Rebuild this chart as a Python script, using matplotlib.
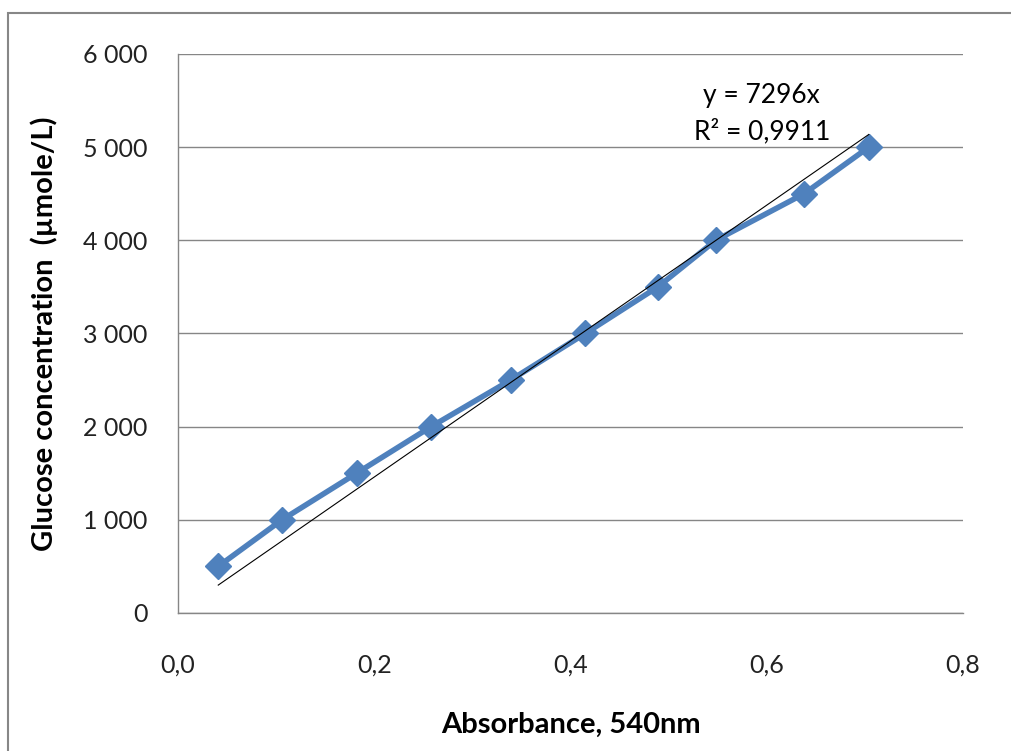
import matplotlib
matplotlib.use("Agg")
import numpy as np
from matplotlib import pyplot as plt
from matplotlib.patches import Rectangle
from matplotlib.ticker import FuncFormatter

absorbance = [0.041, 0.106, 0.182, 0.258, 0.339, 0.415, 0.489, 0.548, 0.638, 0.704]
glucose = [500, 1000, 1500, 2000, 2500, 3000, 3500, 4000, 4500, 5000]
slope = 7296
r2_text = "0,9911"

plt.rcParams["font.family"] = ["Lato", "DejaVu Sans"]

fig = plt.figure(figsize=(10.12, 7.51), dpi=100)
ax = fig.add_axes([0.1759, 0.1838, 0.7757, 0.7443])

# outer chart frame
fig.patches.append(Rectangle((8 / 1012, -0.1), 1.2, (751 - 13) / 751 + 0.1,
                             transform=fig.transFigure, fill=False,
                             edgecolor="#878787", linewidth=1.5))

ax.plot(absorbance, glucose, color="#4F81BD", linewidth=4,
        marker="D", markersize=13, zorder=3)

# linear trendline through origin
xt = np.array([absorbance[0], absorbance[-1]])
ax.plot(xt, slope * xt, color="black", linewidth=0.8, zorder=4)

ax.text(0.595, 5550, "y = %dx" % slope, ha="center", va="center", fontsize=19)
ax.text(0.595, 5170, "R² = " + r2_text, ha="center", va="center", fontsize=19)

ax.set_xlim(0, 0.8)
ax.set_ylim(0, 6000)
ax.set_xticks(np.arange(0, 0.81, 0.2))
ax.set_yticks(range(0, 6001, 1000))
ax.xaxis.set_major_formatter(FuncFormatter(lambda v, p: ("%.1f" % v).replace(".", ",")))
ax.yaxis.set_major_formatter(FuncFormatter(lambda v, p: "{:,}".format(int(v)).replace(",", " ")))
ax.tick_params(length=0, labelsize=18, colors="#222222")
ax.tick_params(axis="x", pad=29)
ax.tick_params(axis="y", pad=22)

ax.grid(axis="y", color="#868686", linewidth=1)
ax.set_axisbelow(True)
for s in ["top", "right"]:
    ax.spines[s].set_visible(False)
for s in ["left", "bottom"]:
    ax.spines[s].set_color("#868686")
    ax.spines[s].set_linewidth(1)

ax.set_xlabel("Absorbance, 540nm", fontsize=21, fontweight="bold", labelpad=26)
ax.set_ylabel("Glucose concentration  (µmole/L)", fontsize=21, fontweight="bold", labelpad=18)

fig.savefig("out.png", dpi=100)
